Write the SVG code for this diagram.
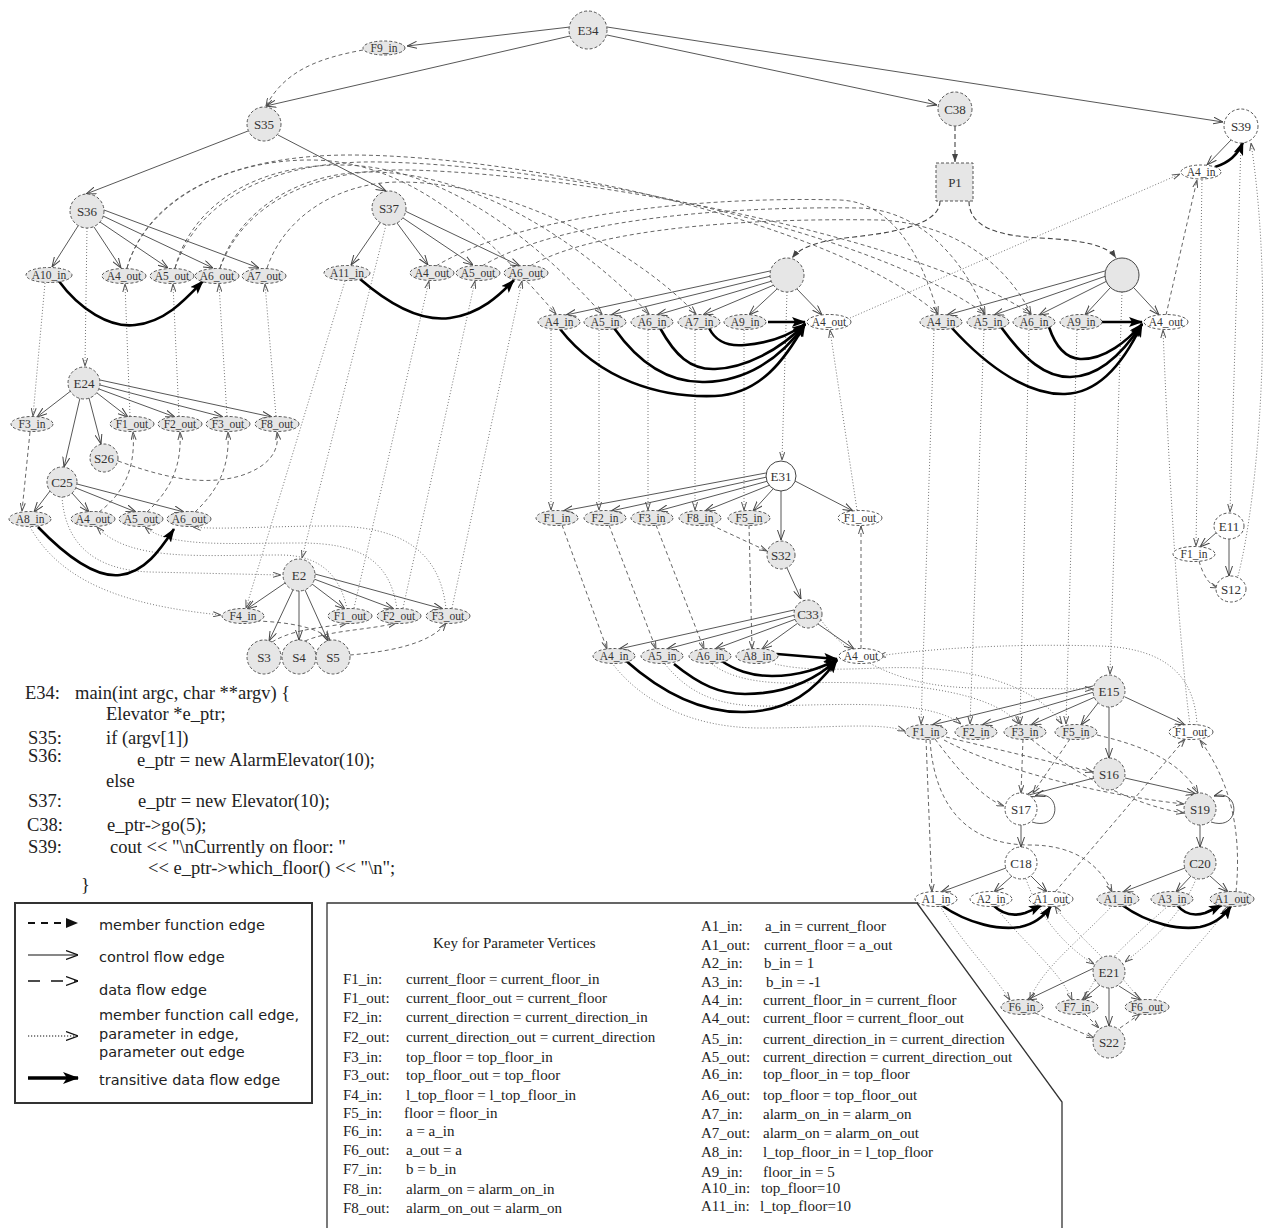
<svg xmlns="http://www.w3.org/2000/svg" width="1266" height="1228" viewBox="0 0 1266 1228">
<defs>
<style>
.n{fill:#e6e6e6;stroke:#555;stroke-width:1;stroke-dasharray:3 2}
.w{fill:#fff;stroke:#555;stroke-width:1;stroke-dasharray:3 2}
.ns{fill:#e6e6e6;stroke:#444;stroke-width:1}
.ws{fill:#fff;stroke:#444;stroke-width:1}
.t{font-family:"Liberation Serif",serif;font-size:11.5px;fill:#333;text-anchor:middle}
.tb{font-family:"Liberation Serif",serif;font-size:13px;fill:#333;text-anchor:middle}
.cf{fill:none;stroke:#444;stroke-width:0.9;marker-end:url(#ao)}
.df{fill:none;stroke:#555;stroke-width:0.9;stroke-dasharray:4 3;marker-end:url(#as)}
.dt{fill:none;stroke:#666;stroke-width:0.9;stroke-dasharray:1 2;marker-end:url(#as)}
.mf{fill:none;stroke:#444;stroke-width:1.1;stroke-dasharray:5 3;marker-end:url(#af)}
.tr{fill:none;stroke:#000;stroke-width:2.6;marker-end:url(#at)}
.code{font-family:"Liberation Serif",serif;font-size:18.5px;fill:#222}
.key{font-family:"Liberation Serif",serif;font-size:15px;fill:#222}
.leg{font-family:"DejaVu Sans",sans-serif;font-size:14.5px;fill:#222}
</style>
<marker id="ao" viewBox="0 0 10 8" refX="10" refY="4" markerWidth="10" markerHeight="8" markerUnits="userSpaceOnUse" orient="auto"><path d="M0,0.5 L10,4 L0,7.5" fill="none" stroke="#444" stroke-width="1"/></marker>
<marker id="as" viewBox="0 0 8 6" refX="8" refY="3" markerWidth="8" markerHeight="6" markerUnits="userSpaceOnUse" orient="auto"><path d="M0,0.5 L8,3 L0,5.5" fill="none" stroke="#555" stroke-width="1"/></marker>
<marker id="af" viewBox="0 0 8 6" refX="8" refY="3" markerWidth="8" markerHeight="6" markerUnits="userSpaceOnUse" orient="auto"><path d="M0,0 L8,3 L0,6 z" fill="#444"/></marker>
<marker id="at" viewBox="0 0 14 10" refX="13" refY="5" markerWidth="14" markerHeight="10" markerUnits="userSpaceOnUse" orient="auto"><path d="M0,0 L14,5 L0,10 L3,5 z" fill="#000"/></marker>
<marker id="atl" viewBox="0 0 16 12" refX="15" refY="6" markerWidth="16" markerHeight="12" markerUnits="userSpaceOnUse" orient="auto"><path d="M0,0 L16,6 L0,12 L4,6 z" fill="#000"/></marker>
<marker id="afl" viewBox="0 0 12 10" refX="12" refY="5" markerWidth="12" markerHeight="10" markerUnits="userSpaceOnUse" orient="auto"><path d="M0,0 L12,5 L0,10 z" fill="#111"/></marker>
<marker id="aol" viewBox="0 0 12 10" refX="12" refY="5" markerWidth="12" markerHeight="10" markerUnits="userSpaceOnUse" orient="auto"><path d="M0,0.5 L12,5 L0,9.5" fill="none" stroke="#111" stroke-width="1.2"/></marker>
</defs>

<g id="connectors">
<!-- control flow -->
<path class="cf" d="M570,27 L407,46"/>
<path class="cf" d="M570,36 L266,106"/>
<path class="cf" d="M607,35 L937,105"/>
<path class="cf" d="M607,27 L1223,122"/>
<path class="cf" d="M248,131 L86,194"/>
<path class="cf" d="M278,135 L386,191"/>
<path class="cf" d="M78,226 L52,267"/>
<path class="cf" d="M94,227 L121,268"/>
<path class="cf" d="M100,222 L168,268"/>
<path class="cf" d="M103,216 L213,268"/>
<path class="cf" d="M104,210 L259,268"/>
<path class="cf" d="M380,223 L351,265"/>
<path class="cf" d="M397,223 L428,265"/>
<path class="cf" d="M403,218 L473,265"/>
<path class="cf" d="M405,211 L520,266"/>
<path class="cf" d="M1231,140 L1207,165"/>
<path class="cf" d="M770,271 L566,315"/>
<path class="cf" d="M771,276 L611,315"/>
<path class="cf" d="M772,281 L657,315"/>
<path class="cf" d="M774,285 L703,315"/>
<path class="cf" d="M777,289 L749,315"/>
<path class="cf" d="M797,289 L822,315"/>
<path class="cf" d="M1105,271 L947,315"/>
<path class="cf" d="M1106,276 L994,315"/>
<path class="cf" d="M1107,281 L1039,315"/>
<path class="cf" d="M1110,288 L1085,315"/>
<path class="cf" d="M1134,288 L1159,315"/>
<path class="cf" d="M72,390 L37,417"/>
<path class="cf" d="M80,398 L64,467"/>
<path class="cf" d="M89,398 L101,444"/>
<path class="cf" d="M97,393 L128,417"/>
<path class="cf" d="M99,389 L175,417"/>
<path class="cf" d="M100,385 L223,417"/>
<path class="cf" d="M100,380 L272,417"/>
<path class="cf" d="M50,491 L34,512"/>
<path class="cf" d="M72,493 L89,512"/>
<path class="cf" d="M76,488 L136,512"/>
<path class="cf" d="M77,484 L184,512"/>
<path class="cf" d="M285,583 L247,609"/>
<path class="cf" d="M293,590 L269,641"/>
<path class="cf" d="M299,591 L299,640"/>
<path class="cf" d="M305,590 L328,641"/>
<path class="cf" d="M312,584 L345,609"/>
<path class="cf" d="M314,579 L394,609"/>
<path class="cf" d="M315,574 L443,609"/>
<path class="cf" d="M766,473 L563,511"/>
<path class="cf" d="M767,477 L611,511"/>
<path class="cf" d="M768,481 L658,511"/>
<path class="cf" d="M770,485 L705,511"/>
<path class="cf" d="M773,489 L753,511"/>
<path class="cf" d="M781,491 L781,540"/>
<path class="cf" d="M795,481 L853,511"/>
<path class="cf" d="M787,568 L801,599"/>
<path class="cf" d="M794,610 L619,649"/>
<path class="cf" d="M795,615 L667,649"/>
<path class="cf" d="M796,619 L715,649"/>
<path class="cf" d="M798,623 L762,649"/>
<path class="cf" d="M818,624 L854,649"/>
<path class="cf" d="M1093,686 L932,725"/>
<path class="cf" d="M1094,692 L982,725"/>
<path class="cf" d="M1095,697 L1031,725"/>
<path class="cf" d="M1098,703 L1081,725"/>
<path class="cf" d="M1109,707 L1109,758"/>
<path class="cf" d="M1125,697 L1185,725"/>
<path class="cf" d="M1094,778 L1025,796"/>
<path class="cf" d="M1125,778 L1196,794"/>
<path class="cf" d="M1032,822 C1062,832 1062,788 1035,796"/>
<path class="cf" d="M1211,822 C1241,832 1241,788 1214,796"/>
<path class="cf" d="M1021,825 L1021,847"/>
<path class="cf" d="M1200,825 L1200,847"/>
<path class="cf" d="M1006,868 L941,892"/>
<path class="cf" d="M1012,876 L994,892"/>
<path class="cf" d="M1031,876 L1047,892"/>
<path class="cf" d="M1185,868 L1123,892"/>
<path class="cf" d="M1191,876 L1176,892"/>
<path class="cf" d="M1210,876 L1228,892"/>
<path class="cf" d="M1217,532 L1200,547"/>
<path class="cf" d="M1229,539 L1229,576"/>
<path class="cf" d="M1094,968 L1027,1000"/>
<path class="cf" d="M1100,985 L1082,1000"/>
<path class="cf" d="M1109,988 L1109,1026"/>
<path class="cf" d="M1119,986 L1141,1000"/>

<!-- member function edges -->
<path class="mf" d="M955,126 L955,162"/>
<path class="mf" d="M940,201 C940,228 880,234 845,238 C815,242 800,248 792,258"/>
<path class="mf" d="M969,201 C969,228 1000,236 1040,238 C1085,240 1108,246 1116,258"/>

<!-- data flow -->
<path class="df" d="M363,50 C320,58 285,70 266,106"/>
<path class="df" d="M127,268 C145,205 220,160 310,160 C420,160 500,250 556,314"/>
<path class="df" d="M175,268 C192,205 255,165 340,165 C450,165 545,250 602,314"/>
<path class="df" d="M220,268 C238,210 300,172 370,172 C480,172 590,250 649,314"/>
<path class="df" d="M267,268 C285,215 340,182 400,182 C510,182 635,250 696,314"/>
<path class="df" d="M127,268 C150,190 240,155 350,155 C520,155 830,220 938,314"/>
<path class="df" d="M175,268 C200,195 280,160 380,162 C560,165 870,230 985,314"/>
<path class="df" d="M220,268 C245,200 320,168 410,170 C600,175 920,240 1031,314"/>
<path class="df" d="M436,266 C520,215 700,196 840,200 C890,202 920,250 938,314"/>
<path class="df" d="M482,266 C560,220 720,206 860,208 C920,210 965,260 985,314"/>
<path class="df" d="M530,266 C600,226 760,218 880,220 C960,224 1010,270 1031,314"/>
<path class="df" d="M1166,315 L1197,180"/>
<path class="df" d="M30,432 L22,511"/>
<path class="df" d="M99,512 C122,495 136,470 133,432"/>
<path class="df" d="M147,512 C168,492 182,470 180,432"/>
<path class="df" d="M195,512 C216,492 230,470 228,432"/>
<path class="df" d="M118,461 C160,476 200,487 240,476 C268,467 280,452 277,432"/>
<path class="df" d="M256,621 C290,622 320,628 330,640"/>
<path class="df" d="M272,642 C295,628 325,628 347,623"/>
<path class="df" d="M305,641 C330,630 370,630 396,623"/>
<path class="df" d="M350,655 C385,652 430,645 446,623"/>
<path class="df" d="M562,525 L607,649"/>
<path class="df" d="M609,525 L656,649"/>
<path class="df" d="M656,525 L704,649"/>
<path class="df" d="M749,525 L752,649"/>
<path class="df" d="M711,525 L767,551"/>
<path class="df" d="M861,649 L861,526"/>
<path class="df" d="M926,739 L932,892"/>
<path class="df" d="M935,739 C958,770 982,798 1004,806"/>
<path class="df" d="M946,737 C1000,750 1060,764 1093,772"/>
<path class="df" d="M944,740 C1000,770 1100,795 1184,804"/>
<path class="df" d="M1031,739 C1070,770 1130,805 1184,813"/>
<path class="df" d="M1023,739 L1021,793"/>
<path class="df" d="M1070,739 L1033,793"/>
<path class="df" d="M1097,735 C1140,745 1180,760 1198,793"/>
<path class="df" d="M930,740 C935,815 975,845 1030,845 C1075,845 1100,865 1112,892"/>
<path class="df" d="M1055,892 L1185,739"/>
<path class="df" d="M1236,892 C1243,820 1225,775 1200,740"/>
<path class="df" d="M1199,561 C1204,578 1210,585 1218,588"/>
<path class="df" d="M1035,1013 L1094,1038"/>
<path class="df" d="M1085,1014 L1099,1028"/>
<path class="df" d="M1120,1028 L1140,1014"/>

<!-- call / parameter edges -->
<path class="dt" d="M87,228 L85,366"/>
<path class="dt" d="M45,283 L33,416"/>
<path class="dt" d="M130,416 L125,284"/>
<path class="dt" d="M179,416 L173,284"/>
<path class="dt" d="M227,416 L219,284"/>
<path class="dt" d="M276,416 L265,284"/>
<path class="dt" d="M386,225 L302,558"/>
<path class="dt" d="M345,281 L246,608"/>
<path class="dt" d="M354,608 L429,281"/>
<path class="dt" d="M403,608 L475,281"/>
<path class="dt" d="M452,608 L522,281"/>
<path class="dt" d="M62,497 C65,540 90,570 150,572 L281,575"/>
<path class="dt" d="M30,527 C60,580 120,605 221,615"/>
<path class="dt" d="M347,609 C340,575 320,555 280,555 C200,555 130,562 97,527"/>
<path class="dt" d="M397,609 C390,560 360,543 300,543 C230,543 170,548 145,527"/>
<path class="dt" d="M446,609 C440,550 400,526 330,526 C270,526 220,530 193,527"/>
<path class="dt" d="M787,292 L782,460"/>
<path class="dt" d="M551,330 L551,510"/>
<path class="dt" d="M599,330 L599,510"/>
<path class="dt" d="M648,330 L648,510"/>
<path class="dt" d="M695,330 L695,510"/>
<path class="dt" d="M744,330 L744,510"/>
<path class="dt" d="M857,510 L830,330"/>
<path class="dt" d="M850,318 L1180,174"/>
<path class="dt" d="M1122,292 L1110,674"/>
<path class="dt" d="M934,330 L921,724"/>
<path class="dt" d="M984,330 L970,724"/>
<path class="dt" d="M1029,330 L1020,724"/>
<path class="dt" d="M1077,330 L1066,724"/>
<path class="dt" d="M1190,725 C1180,650 1170,500 1163,330"/>
<path class="dt" d="M1241,143 L1230,512"/>
<path class="dt" d="M1202,180 L1196,546"/>
<path class="dt" d="M1238,576 C1258,500 1275,300 1251,143"/>
<path class="dt" d="M612,663 C640,700 690,728 760,728 C830,728 880,722 905,731"/>
<path class="dt" d="M665,664 C690,695 720,707 770,706 C850,704 930,700 961,724"/>
<path class="dt" d="M712,664 C730,678 760,684 800,683 C900,680 990,690 1019,724"/>
<path class="dt" d="M775,664 C800,670 830,670 880,668 C980,664 1040,690 1062,724"/>
<path class="dt" d="M821,620 C850,660 900,688 980,688 L1093,689"/>
<path class="dt" d="M1197,725 C1195,680 1170,648 1100,646 C1000,643 920,650 878,656"/>
<path class="dt" d="M1026,879 C1040,920 1070,950 1094,964"/>
<path class="dt" d="M1196,879 C1180,920 1140,950 1125,962"/>
<path class="dt" d="M940,906 C960,940 990,970 1010,1000"/>
<path class="dt" d="M995,906 C1020,940 1060,970 1072,1000"/>
<path class="dt" d="M1140,1000 C1110,960 1070,930 1055,906"/>
<path class="dt" d="M1112,906 C1080,940 1040,970 1030,1000"/>
<path class="dt" d="M1168,906 C1130,940 1095,970 1085,1000"/>
<path class="dt" d="M1155,1000 C1180,960 1215,930 1228,906"/>

<!-- transitive data flow -->
<path class="tr" d="M58,280 C80,310 110,328 135,325 C165,322 185,300 203,281"/>
<path class="tr" d="M360,279 C390,305 420,322 450,318 C480,314 500,295 514,280"/>
<path class="tr" d="M38,527 C65,555 95,578 120,575 C145,572 160,550 174,529"/>
<path class="tr" d="M560,329 C600,380 660,398 715,396 C760,394 785,360 805,324"/>
<path class="tr" d="M614,328 C640,365 670,383 705,382 C745,381 780,360 805,324"/>
<path class="tr" d="M660,328 C675,355 690,370 715,369 C745,368 780,350 805,324"/>
<path class="tr" d="M709,328 C715,340 725,347 745,345 C770,343 790,335 805,324"/>
<path class="tr" d="M768,322 L805,322"/>
<path class="tr" d="M951,327 C990,370 1030,395 1065,394 C1100,393 1125,360 1142,324"/>
<path class="tr" d="M1001,327 C1025,360 1045,377 1070,377 C1100,377 1125,350 1142,324"/>
<path class="tr" d="M1049,327 C1055,345 1065,358 1080,359 C1105,360 1128,340 1142,324"/>
<path class="tr" d="M1102,322 L1142,322"/>
<path class="tr" d="M625,660 C670,700 710,713 745,712 C790,711 815,690 837,660"/>
<path class="tr" d="M674,664 C700,685 720,694 745,694 C785,694 815,680 837,660"/>
<path class="tr" d="M720,660 C735,670 750,676 772,676 C800,676 820,668 837,660"/>
<path class="tr" d="M777,654 L837,659"/>
<path class="tr" d="M941,905 C970,925 1000,930 1020,927 C1035,924 1045,915 1051,906"/>
<path class="tr" d="M993,905 C1003,915 1015,916 1025,913 C1033,910 1038,907 1042,905"/>
<path class="tr" d="M1122,905 C1150,925 1180,930 1200,927 C1215,924 1225,915 1231,906"/>
<path class="tr" d="M1177,905 C1185,915 1195,916 1205,913 C1212,910 1218,907 1222,905"/>
<path class="tr" d="M1215,167 C1228,163 1238,155 1243,142"/>
</g>

<!-- nodes -->
<g id="E34"><circle class="n" cx="588" cy="30" r="19"/><text class="tb" x="588" y="35" font-size="14">E34</text></g>
<g id="F9_in"><ellipse class="n" cx="384" cy="48" rx="21" ry="7"/><text class="t" x="384" y="52">F9_in</text></g>
<g id="S35"><circle class="n" cx="264" cy="124" r="17"/><text class="tb" x="264" y="129">S35</text></g>
<g id="C38"><circle class="n" cx="955" cy="109" r="17"/><text class="tb" x="955" y="114">C38</text></g>
<g id="S39"><circle class="w" cx="1241" cy="126" r="17"/><text class="tb" x="1241" y="131">S39</text></g>
<g id="P1"><rect class="n" x="936" y="163" width="37" height="38"/><text class="tb" x="955" y="187" font-size="15">P1</text></g>
<g id="S39_A4_in"><ellipse class="w" cx="1201" cy="172" rx="20" ry="7"/><text class="t" x="1201" y="176">A4_in</text></g>
<g id="S36"><circle class="n" cx="87" cy="211" r="17"/><text class="tb" x="87" y="216">S36</text></g>
<g id="S37"><circle class="n" cx="389" cy="208" r="17"/><text class="tb" x="389" y="213">S37</text></g>
<g id="S36_A10_in"><ellipse class="n" cx="49" cy="275" rx="23" ry="7.5"/><text class="t" x="49" y="279">A10_in</text></g>
<g id="S36_A4_out"><ellipse class="n" cx="124" cy="276" rx="22" ry="7.5"/><text class="t" x="124" y="280">A4_out</text></g>
<g id="S36_A5_out"><ellipse class="n" cx="172" cy="276" rx="22" ry="7.5"/><text class="t" x="172" y="280">A5_out</text></g>
<g id="S36_A6_out"><ellipse class="n" cx="217" cy="276" rx="22" ry="7.5"/><text class="t" x="217" y="280">A6_out</text></g>
<g id="S36_A7_out"><ellipse class="n" cx="264" cy="276" rx="22" ry="7.5"/><text class="t" x="264" y="280">A7_out</text></g>
<g id="S37_A11_in"><ellipse class="n" cx="347" cy="273" rx="23" ry="7.5"/><text class="t" x="347" y="277">A11_in</text></g>
<g id="S37_A4_out"><ellipse class="n" cx="432" cy="273" rx="22" ry="7.5"/><text class="t" x="432" y="277">A4_out</text></g>
<g id="S37_A5_out"><ellipse class="n" cx="478" cy="273" rx="22" ry="7.5"/><text class="t" x="478" y="277">A5_out</text></g>
<g id="S37_A6_out"><ellipse class="n" cx="526" cy="273" rx="22" ry="7.5"/><text class="t" x="526" y="277">A6_out</text></g>
<g id="C1"><circle class="n" cx="787" cy="275" r="17"/></g>
<g id="C2"><circle class="ns" cx="1122" cy="275" r="17"/></g>
<g id="C1_A4_in"><ellipse class="n" cx="559" cy="322" rx="21" ry="7.5"/><text class="t" x="559" y="326">A4_in</text></g>
<g id="C1_A5_in"><ellipse class="n" cx="605" cy="322" rx="21" ry="7.5"/><text class="t" x="605" y="326">A5_in</text></g>
<g id="C1_A6_in"><ellipse class="n" cx="652" cy="322" rx="21" ry="7.5"/><text class="t" x="652" y="326">A6_in</text></g>
<g id="C1_A7_in"><ellipse class="n" cx="699" cy="322" rx="21" ry="7.5"/><text class="t" x="699" y="326">A7_in</text></g>
<g id="C1_A9_in"><ellipse class="n" cx="745" cy="322" rx="21" ry="7.5"/><text class="t" x="745" y="326">A9_in</text></g>
<g id="C1_A4_out"><ellipse class="w" cx="829" cy="322" rx="22" ry="7.5"/><text class="t" x="829" y="326">A4_out</text></g>
<g id="C2_A4_in"><ellipse class="n" cx="941" cy="322" rx="21" ry="7.5"/><text class="t" x="941" y="326">A4_in</text></g>
<g id="C2_A5_in"><ellipse class="n" cx="988" cy="322" rx="21" ry="7.5"/><text class="t" x="988" y="326">A5_in</text></g>
<g id="C2_A6_in"><ellipse class="n" cx="1034" cy="322" rx="21" ry="7.5"/><text class="t" x="1034" y="326">A6_in</text></g>
<g id="C2_A9_in"><ellipse class="n" cx="1081" cy="322" rx="21" ry="7.5"/><text class="t" x="1081" y="326">A9_in</text></g>
<g id="C2_A4_out"><ellipse class="w" cx="1166" cy="322" rx="22" ry="7.5"/><text class="t" x="1166" y="326">A4_out</text></g>
<g id="E24"><circle class="n" cx="84" cy="383" r="16"/><text class="tb" x="84" y="388">E24</text></g>
<g id="E24_F3_in"><ellipse class="n" cx="32" cy="424" rx="21" ry="7.5"/><text class="t" x="32" y="428">F3_in</text></g>
<g id="E24_F1_out"><ellipse class="n" cx="132" cy="424" rx="22" ry="7.5"/><text class="t" x="132" y="428">F1_out</text></g>
<g id="E24_F2_out"><ellipse class="n" cx="180" cy="424" rx="22" ry="7.5"/><text class="t" x="180" y="428">F2_out</text></g>
<g id="E24_F3_out"><ellipse class="n" cx="228" cy="424" rx="22" ry="7.5"/><text class="t" x="228" y="428">F3_out</text></g>
<g id="E24_F8_out"><ellipse class="n" cx="277" cy="424" rx="22" ry="7.5"/><text class="t" x="277" y="428">F8_out</text></g>
<g id="S26"><circle class="n" cx="104" cy="458" r="14"/><text class="tb" x="104" y="463">S26</text></g>
<g id="C25"><circle class="n" cx="62" cy="482" r="15"/><text class="tb" x="62" y="487">C25</text></g>
<g id="C25_A8_in"><ellipse class="n" cx="30" cy="519" rx="21" ry="7.5"/><text class="t" x="30" y="523">A8_in</text></g>
<g id="C25_A4_out"><ellipse class="n" cx="93" cy="519" rx="22" ry="7.5"/><text class="t" x="93" y="523">A4_out</text></g>
<g id="C25_A5_out"><ellipse class="n" cx="141" cy="519" rx="22" ry="7.5"/><text class="t" x="141" y="523">A5_out</text></g>
<g id="C25_A6_out"><ellipse class="n" cx="189" cy="519" rx="22" ry="7.5"/><text class="t" x="189" y="523">A6_out</text></g>
<g id="E2"><circle class="n" cx="299" cy="575" r="16"/><text class="tb" x="299" y="580">E2</text></g>
<g id="E2_F4_in"><ellipse class="n" cx="243" cy="616" rx="21" ry="7.5"/><text class="t" x="243" y="620">F4_in</text></g>
<g id="E2_F1_out"><ellipse class="n" cx="350" cy="616" rx="22" ry="7.5"/><text class="t" x="350" y="620">F1_out</text></g>
<g id="E2_F2_out"><ellipse class="n" cx="399" cy="616" rx="22" ry="7.5"/><text class="t" x="399" y="620">F2_out</text></g>
<g id="E2_F3_out"><ellipse class="n" cx="448" cy="616" rx="22" ry="7.5"/><text class="t" x="448" y="620">F3_out</text></g>
<g id="S3"><circle class="n" cx="264" cy="657" r="17"/><text class="tb" x="264" y="662">S3</text></g>
<g id="S4"><circle class="n" cx="299" cy="657" r="17"/><text class="tb" x="299" y="662">S4</text></g>
<g id="S5"><circle class="n" cx="333" cy="657" r="17"/><text class="tb" x="333" y="662">S5</text></g>
<g id="E31"><circle class="ws" cx="781" cy="476" r="15"/><text class="tb" x="781" y="481">E31</text></g>
<g id="E31_F1_in"><ellipse class="n" cx="557" cy="518" rx="21" ry="7.5"/><text class="t" x="557" y="522">F1_in</text></g>
<g id="E31_F2_in"><ellipse class="n" cx="605" cy="518" rx="21" ry="7.5"/><text class="t" x="605" y="522">F2_in</text></g>
<g id="E31_F3_in"><ellipse class="n" cx="652" cy="518" rx="21" ry="7.5"/><text class="t" x="652" y="522">F3_in</text></g>
<g id="E31_F8_in"><ellipse class="n" cx="700" cy="518" rx="21" ry="7.5"/><text class="t" x="700" y="522">F8_in</text></g>
<g id="E31_F5_in"><ellipse class="n" cx="749" cy="518" rx="21" ry="7.5"/><text class="t" x="749" y="522">F5_in</text></g>
<g id="E31_F1_out"><ellipse class="w" cx="860" cy="518" rx="22" ry="7.5"/><text class="t" x="860" y="522">F1_out</text></g>
<g id="S32"><circle class="n" cx="781" cy="555" r="14"/><text class="tb" x="781" y="560">S32</text></g>
<g id="C33"><circle class="n" cx="808" cy="614" r="14"/><text class="tb" x="808" y="619">C33</text></g>
<g id="C33_A4_in"><ellipse class="n" cx="614" cy="656" rx="21" ry="7.5"/><text class="t" x="614" y="660">A4_in</text></g>
<g id="C33_A5_in"><ellipse class="n" cx="662" cy="656" rx="21" ry="7.5"/><text class="t" x="662" y="660">A5_in</text></g>
<g id="C33_A6_in"><ellipse class="n" cx="710" cy="656" rx="21" ry="7.5"/><text class="t" x="710" y="660">A6_in</text></g>
<g id="C33_A8_in"><ellipse class="n" cx="757" cy="656" rx="21" ry="7.5"/><text class="t" x="757" y="660">A8_in</text></g>
<g id="C33_A4_out"><ellipse class="w" cx="861" cy="656" rx="22" ry="7.5"/><text class="t" x="861" y="660">A4_out</text></g>
<g id="E15"><circle class="n" cx="1109" cy="691" r="16"/><text class="tb" x="1109" y="696">E15</text></g>
<g id="E15_F1_in"><ellipse class="n" cx="926" cy="732" rx="21" ry="7.5"/><text class="t" x="926" y="736">F1_in</text></g>
<g id="E15_F2_in"><ellipse class="n" cx="976" cy="732" rx="21" ry="7.5"/><text class="t" x="976" y="736">F2_in</text></g>
<g id="E15_F3_in"><ellipse class="n" cx="1025" cy="732" rx="21" ry="7.5"/><text class="t" x="1025" y="736">F3_in</text></g>
<g id="E15_F5_in"><ellipse class="n" cx="1076" cy="732" rx="21" ry="7.5"/><text class="t" x="1076" y="736">F5_in</text></g>
<g id="E15_F1_out"><ellipse class="w" cx="1191" cy="732" rx="22" ry="7.5"/><text class="t" x="1191" y="736">F1_out</text></g>
<g id="S16"><circle class="n" cx="1109" cy="774" r="16"/><text class="tb" x="1109" y="779">S16</text></g>
<g id="S17"><circle class="w" cx="1021" cy="809" r="16"/><text class="tb" x="1021" y="814">S17</text></g>
<g id="S19"><circle class="n" cx="1200" cy="809" r="16"/><text class="tb" x="1200" y="814">S19</text></g>
<g id="C18"><circle class="w" cx="1021" cy="863" r="16"/><text class="tb" x="1021" y="868">C18</text></g>
<g id="C20"><circle class="n" cx="1200" cy="863" r="16"/><text class="tb" x="1200" y="868">C20</text></g>
<g id="C18_A1_in"><ellipse class="w" cx="936" cy="899" rx="21" ry="7.5"/><text class="t" x="936" y="903">A1_in</text></g>
<g id="C18_A2_in"><ellipse class="w" cx="991" cy="899" rx="21" ry="7.5"/><text class="t" x="991" y="903">A2_in</text></g>
<g id="C18_A1_out"><ellipse class="w" cx="1051" cy="899" rx="22" ry="7.5"/><text class="t" x="1051" y="903">A1_out</text></g>
<g id="C20_A1_in"><ellipse class="n" cx="1118" cy="899" rx="21" ry="7.5"/><text class="t" x="1118" y="903">A1_in</text></g>
<g id="C20_A3_in"><ellipse class="n" cx="1172" cy="899" rx="21" ry="7.5"/><text class="t" x="1172" y="903">A3_in</text></g>
<g id="C20_A1_out"><ellipse class="n" cx="1232" cy="899" rx="22" ry="7.5"/><text class="t" x="1232" y="903">A1_out</text></g>
<g id="E11"><ellipse class="w" cx="1229" cy="526" rx="15" ry="13"/><text class="tb" x="1229" y="531">E11</text></g>
<g id="E11_F1_in"><ellipse class="w" cx="1194" cy="554" rx="21" ry="7.5"/><text class="t" x="1194" y="558">F1_in</text></g>
<g id="S12"><ellipse class="w" cx="1231" cy="589" rx="15" ry="13"/><text class="tb" x="1231" y="594">S12</text></g>
<g id="E21"><circle class="n" cx="1109" cy="972" r="16"/><text class="tb" x="1109" y="977">E21</text></g>
<g id="E21_F6_in"><ellipse class="n" cx="1022" cy="1007" rx="21" ry="7.5"/><text class="t" x="1022" y="1011">F6_in</text></g>
<g id="E21_F7_in"><ellipse class="n" cx="1077" cy="1007" rx="21" ry="7.5"/><text class="t" x="1077" y="1011">F7_in</text></g>
<g id="E21_F6_out"><ellipse class="n" cx="1147" cy="1007" rx="22" ry="7.5"/><text class="t" x="1147" y="1011">F6_out</text></g>
<g id="S22"><circle class="n" cx="1109" cy="1042" r="16"/><text class="tb" x="1109" y="1047">S22</text></g>

<!-- source code -->
<g id="code">
<text class="code" x="25" y="699">E34:</text><text class="code" x="75" y="699">main(int argc, char **argv) {</text>
<text class="code" x="106" y="720">Elevator *e_ptr;</text>
<text class="code" x="28" y="744">S35:</text><text class="code" x="106" y="744">if (argv[1])</text>
<text class="code" x="28" y="762">S36:</text><text class="code" x="137" y="766">e_ptr = new AlarmElevator(10);</text>
<text class="code" x="106" y="787">else</text>
<text class="code" x="28" y="807">S37:</text><text class="code" x="138" y="807">e_ptr = new Elevator(10);</text>
<text class="code" x="27" y="831">C38:</text><text class="code" x="107" y="831">e_ptr-&gt;go(5);</text>
<text class="code" x="28" y="853">S39:</text><text class="code" x="110" y="853">cout &lt;&lt; "\nCurrently on floor: "</text>
<text class="code" x="148" y="874">&lt;&lt; e_ptr-&gt;which_floor() &lt;&lt; "\n";</text>
<text class="code" x="81" y="891">}</text>
</g>

<!-- legend -->
<g id="legend">
<rect x="15" y="903" width="297" height="200" fill="none" stroke="#333" stroke-width="2"/>
<line x1="28" y1="923" x2="78" y2="923" stroke="#111" stroke-width="2.2" stroke-dasharray="7 6" marker-end="url(#afl)"/>
<text class="leg" x="99" y="930">member function edge</text>
<line x1="28" y1="955" x2="78" y2="955" stroke="#111" stroke-width="1.2" marker-end="url(#aol)"/>
<text class="leg" x="99" y="962">control flow edge</text>
<line x1="28" y1="981" x2="78" y2="981" stroke="#111" stroke-width="1.3" stroke-dasharray="12 11" marker-end="url(#aol)"/>
<text class="leg" x="99" y="995">data flow edge</text>
<line x1="28" y1="1036" x2="78" y2="1036" stroke="#111" stroke-width="1.2" stroke-dasharray="1.2 1.8" marker-end="url(#aol)"/>
<text class="leg" x="99" y="1020">member function call edge,</text>
<text class="leg" x="99" y="1039">parameter in edge,</text>
<text class="leg" x="99" y="1057">parameter out edge</text>
<line x1="28" y1="1078" x2="78" y2="1078" stroke="#000" stroke-width="3.5" marker-end="url(#atl)"/>
<text class="leg" x="99" y="1085">transitive data flow edge</text>
</g>

<!-- key for parameter vertices -->
<g id="key">
<path d="M327,1228 L327,903 L917,903 L1062,1102 L1062,1228" fill="none" stroke="#333" stroke-width="1.3"/>
<text class="key" x="433" y="948">Key for Parameter Vertices</text>
<text class="key" x="343" y="984">F1_in:</text><text class="key" x="406" y="984">current_floor = current_floor_in</text>
<text class="key" x="343" y="1003">F1_out:</text><text class="key" x="406" y="1003">current_floor_out = current_floor</text>
<text class="key" x="343" y="1022">F2_in:</text><text class="key" x="406" y="1022">current_direction = current_direction_in</text>
<text class="key" x="343" y="1042">F2_out:</text><text class="key" x="406" y="1042">current_direction_out = current_direction</text>
<text class="key" x="343" y="1062">F3_in:</text><text class="key" x="406" y="1062">top_floor = top_floor_in</text>
<text class="key" x="343" y="1080">F3_out:</text><text class="key" x="406" y="1080">top_floor_out  = top_floor</text>
<text class="key" x="343" y="1100">F4_in:</text><text class="key" x="406" y="1100">l_top_floor = l_top_floor_in</text>
<text class="key" x="343" y="1118">F5_in:</text><text class="key" x="404" y="1118">floor = floor_in</text>
<text class="key" x="343" y="1136">F6_in:</text><text class="key" x="406" y="1136">a = a_in</text>
<text class="key" x="343" y="1155">F6_out:</text><text class="key" x="406" y="1155">a_out = a</text>
<text class="key" x="343" y="1174">F7_in:</text><text class="key" x="406" y="1174">b = b_in</text>
<text class="key" x="343" y="1194">F8_in:</text><text class="key" x="406" y="1194">alarm_on = alarm_on_in</text>
<text class="key" x="343" y="1213">F8_out:</text><text class="key" x="406" y="1213">alarm_on_out = alarm_on</text>
<text class="key" x="701" y="931">A1_in:</text><text class="key" x="765" y="931">a_in = current_floor</text>
<text class="key" x="701" y="950">A1_out:</text><text class="key" x="764" y="950">current_floor = a_out</text>
<text class="key" x="701" y="968">A2_in:</text><text class="key" x="764" y="968">b_in = 1</text>
<text class="key" x="701" y="987">A3_in:</text><text class="key" x="766" y="987">b_in = -1</text>
<text class="key" x="701" y="1005">A4_in:</text><text class="key" x="763" y="1005">current_floor_in = current_floor</text>
<text class="key" x="701" y="1023">A4_out:</text><text class="key" x="763" y="1023">current_floor = current_floor_out</text>
<text class="key" x="701" y="1044">A5_in:</text><text class="key" x="763" y="1044">current_direction_in = current_direction</text>
<text class="key" x="701" y="1062">A5_out:</text><text class="key" x="763" y="1062">current_direction = current_direction_out</text>
<text class="key" x="701" y="1079">A6_in:</text><text class="key" x="763" y="1079">top_floor_in = top_floor</text>
<text class="key" x="701" y="1100">A6_out:</text><text class="key" x="763" y="1100">top_floor = top_floor_out</text>
<text class="key" x="701" y="1119">A7_in:</text><text class="key" x="763" y="1119">alarm_on_in = alarm_on</text>
<text class="key" x="701" y="1138">A7_out:</text><text class="key" x="763" y="1138">alarm_on = alarm_on_out</text>
<text class="key" x="701" y="1157">A8_in:</text><text class="key" x="763" y="1157">l_top_floor_in = l_top_floor</text>
<text class="key" x="701" y="1177">A9_in:</text><text class="key" x="763" y="1177">floor_in = 5</text>
<text class="key" x="701" y="1193">A10_in:</text><text class="key" x="761" y="1193">top_floor=10</text>
<text class="key" x="701" y="1211">A11_in:</text><text class="key" x="760" y="1211">l_top_floor=10</text>
</g>
</svg>
